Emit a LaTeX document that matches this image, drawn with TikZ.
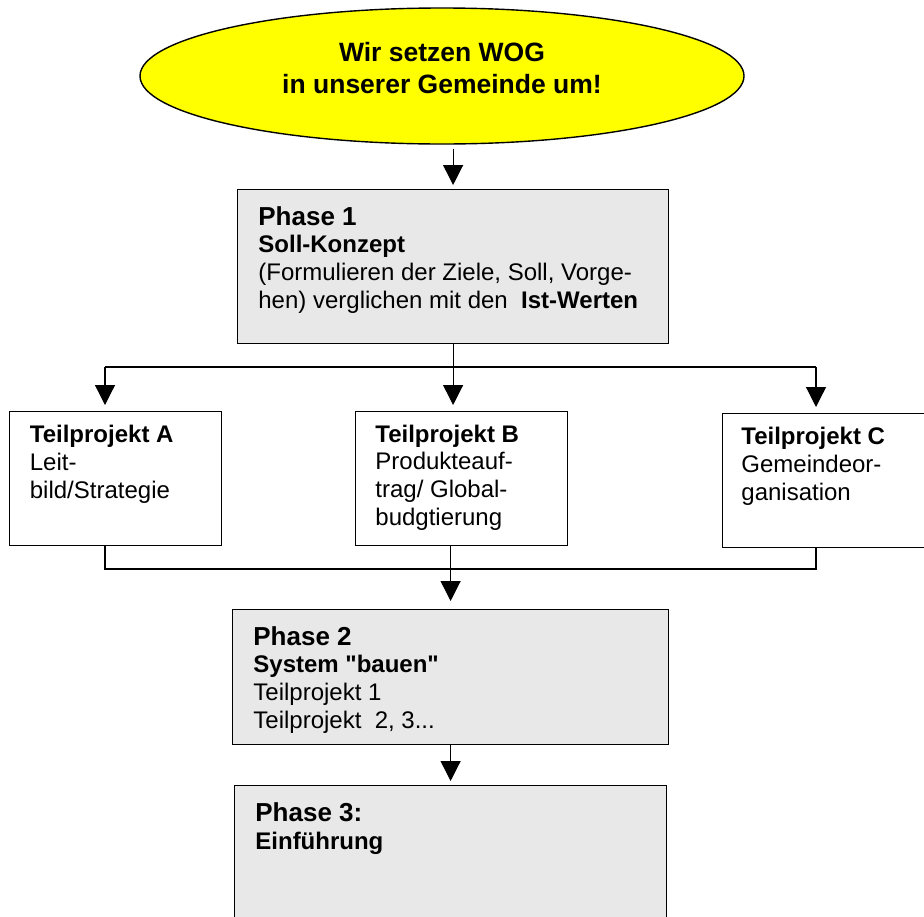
\documentclass[tikz,border=0pt]{standalone}
\usepackage{fontspec}
\setmainfont{Liberation Sans}[Ligatures=TeXOff]
\usetikzlibrary{arrows.meta,shapes.geometric}
\definecolor{boxgray}{RGB}{232,232,232}
\definecolor{goalyellow}{RGB}{255,255,0}
\tikzset{
  phasebox/.style={draw,line width=0.6pt,fill=boxgray,anchor=north west,inner sep=0pt},
  partbox/.style={draw,line width=0.6pt,fill=white,anchor=north west,inner sep=0pt},
  boxtext/.style={anchor=base west,inner sep=0pt,align=left,font=\fontsize{12}{13.8}\selectfont},
  arr/.style={line width=0.6pt,-{Triangle[length=10pt,width=10pt]}},
  link/.style={line width=0.6pt}
}
\newcommand{\headline}[1]{{\fontsize{13}{15}\selectfont\bfseries #1}}
\begin{document}
\begin{tikzpicture}[x=0.5pt,y=-0.5pt]
            \clip (0,0) rectangle (924,916);
            \fill[white] (0,0) rectangle (924,916);

            % goal
            \node[ellipse,draw,line width=0.7pt,fill=goalyellow,minimum width=302pt,minimum height=68pt,inner sep=0pt] (goal) at (442,76) {};
            \node[anchor=base,inner sep=0pt,align=center,font=\fontsize{13.25}{16}\selectfont\bfseries] (motto) at (442,93) {Wir setzen WOG\\in unserer Gemeinde um!};

            % phases
            \node[phasebox,minimum width=215.5pt,minimum height=77pt] (ph1) at (237,189) {};
            \node[phasebox,minimum width=218pt,minimum height=67.5pt] (ph2) at (232,609) {};
            \node[phasebox,minimum width=216pt,minimum height=100pt] (ph3) at (234,785) {};

            % sub projects
            \node[partbox,minimum width=106pt,minimum height=67pt] (A) at (9,411) {};
            \node[partbox,minimum width=106pt,minimum height=67pt] (B) at (355,411) {};
            \node[partbox,minimum width=120pt,minimum height=67pt] (C) at (722,413) {};

            % texts (anchored at the baseline of the last line)
            \node[boxtext] (ph1txt) at ([shift={(21,119)}]ph1.north west) {\headline{Phase 1}\\ \textbf{Soll-Konzept}\\ (Formulieren der Ziele, Soll, Vorge-\\ hen) verglichen mit den\ \ \textbf{Ist-Werten}};
            \node[boxtext] (ph2txt) at ([shift={(21,119)}]ph2.north west) {\headline{Phase 2}\\ \textbf{System "bauen"}\\ Teilprojekt 1\\ Teilprojekt\ \ 2, 3...};
            \node[boxtext] (ph3txt) at ([shift={(21,64)}]ph3.north west) {\headline{Phase 3:}\\ \textbf{Einführung}};
            \node[boxtext] (Atxt) at ([shift={(20.5,87)}]A.north west) {\textbf{Teilprojekt A}\\ Leit-\\ bild/Strategie};
            \node[boxtext] (Btxt) at ([shift={(20,114)}]B.north west) {\textbf{Teilprojekt B}\\ Produkteauf-\\ trag/ Global-\\ budgtierung};
            \node[boxtext] (Ctxt) at ([shift={(19,87)}]C.north west) {\textbf{Teilprojekt C}\\ Gemeindeor-\\ ganisation};

            % joints
            \coordinate (jA) at (105,367);
            \coordinate (jC) at (816,367);
            \coordinate (mA) at (105,569);
            \coordinate (mC) at (816,569);

            % connectors
            \draw[arr,shorten <=2pt,shorten >=2pt] (goal.south -| ph1.north) -- (ph1.north);
            \draw[link] (jA) -- (jC);
            \draw[arr,shorten >=3pt] (ph1.south) -- (ph1.south |- B.north);
            \draw[arr,shorten >=3pt] (jA) -- (jA |- A.north);
            \draw[arr,shorten >=3pt] (jC) -- (jC |- C.north);
            \draw[link] (jA |- A.south) -- (mA) -- (mC) -- (jC |- C.south);
            \draw[arr,shorten >=4pt] (B.south -| ph2.north) -- (ph2.north);
            \draw[arr,shorten >=2pt] (ph2.south) -- (ph3.north);
        \end{tikzpicture}
\end{document}
